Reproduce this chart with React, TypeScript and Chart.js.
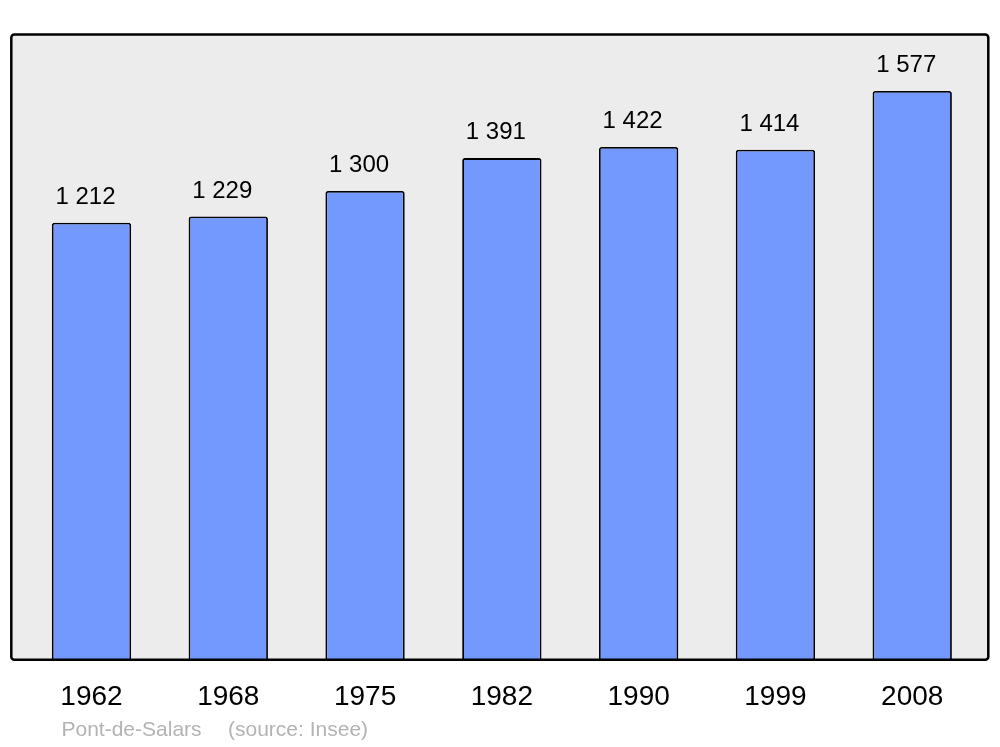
import React, { useEffect, useRef } from "react";
import { Chart, registerables } from "chart.js";

Chart.register(...registerables);

const years = ["1962", "1968", "1975", "1982", "1990", "1999", "2008"];
const population = [1212, 1229, 1300, 1391, 1422, 1414, 1577];
const valueLabels = ["1 212", "1 229", "1 300", "1 391", "1 422", "1 414", "1 577"];
const townName = "Pont-de-Salars";
const sourceText = "(source: Insee)";

const FONT = '"Liberation Sans", Arial, sans-serif';

const boxPlugin = {
  id: "boxPlugin",
  beforeDraw(chart: any) {
    const { ctx, chartArea } = chart;
    const x0 = chartArea.left - 11.8;
    const x1 = chartArea.right + 7.7;
    const y0 = chartArea.top + 0.5;
    const y1 = chartArea.bottom - 0.3;
    ctx.save();
    ctx.beginPath();
    ctx.roundRect(x0, y0, x1 - x0, y1 - y0, 3);
    ctx.fillStyle = "#ececec";
    ctx.fill();
    ctx.restore();
  },
  afterDatasetsDraw(chart: any) {
    const { ctx, chartArea } = chart;
    const x0 = chartArea.left - 11.8;
    const x1 = chartArea.right + 7.7;
    const y0 = chartArea.top + 0.5;
    const y1 = chartArea.bottom - 0.3;
    ctx.save();
    ctx.beginPath();
    ctx.roundRect(x0, y0, x1 - x0, y1 - y0, 3);
    ctx.lineWidth = 2.5;
    ctx.strokeStyle = "#000";
    ctx.stroke();

    const meta = chart.getDatasetMeta(0);
    ctx.fillStyle = "#000";
    ctx.font = `24px ${FONT}`;
    ctx.textAlign = "center";
    ctx.textBaseline = "middle";
    meta.data.forEach((bar: any, i: number) => {
      ctx.fillText(valueLabels[i], bar.x - 6, bar.y - 25.5);
    });

    ctx.fillStyle = "#b3b3b3";
    ctx.font = `21px ${FONT}`;
    ctx.textAlign = "left";
    ctx.fillText(townName, 61.5, 730.5);
    ctx.fillText(sourceText, 228, 730.5);
    ctx.restore();
  },
};

export default function App() {
  const ref = useRef<HTMLCanvasElement>(null);
  useEffect(() => {
    if (!ref.current) return;
    const chart = new Chart(ref.current, {
      type: "bar",
      data: {
        labels: years,
        datasets: [
          {
            data: population,
            backgroundColor: "#7399ff",
            borderColor: "#000",
            borderWidth: 1.8,
            borderRadius: 2.5,
            barPercentage: 0.58,
            categoryPercentage: 1,
          },
        ],
      },
      options: {
        animation: false,
        responsive: false,
        layout: { padding: { left: 23.1, right: 19.4, top: 34, bottom: 13.4 } },
        plugins: { legend: { display: false }, tooltip: { enabled: false } },
        scales: {
          x: {
            grid: { display: false, drawTicks: false },
            border: { display: false },
            ticks: {
              color: "#000",
              font: { family: FONT, size: 28 },
              padding: 20,
              maxRotation: 0,
            },
          },
          y: { display: false, min: 0, max: 1735 },
        },
      },
      plugins: [boxPlugin],
    });
    return () => chart.destroy();
  }, []);
  return (
    <div style={{ position: "absolute", left: 0, top: 0, width: 1000, height: 747, background: "#fff" }}>
      <canvas ref={ref} width={1000} height={747} />
    </div>
  );
}
